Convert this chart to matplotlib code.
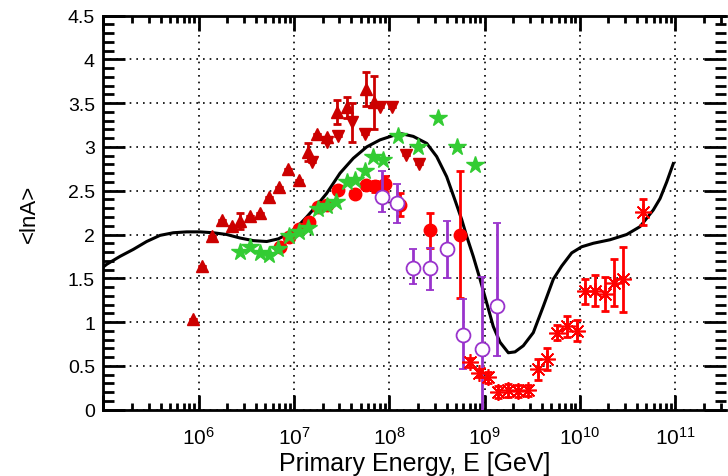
import numpy as np
import matplotlib
matplotlib.use("Agg")
import matplotlib.pyplot as plt
from matplotlib.ticker import FixedLocator, FixedFormatter, NullFormatter

plt.rcParams['font.family'] = ['Liberation Sans', 'DejaVu Sans']
plt.rcParams['mathtext.fontset'] = 'custom'
plt.rcParams['mathtext.rm'] = 'Liberation Sans'
plt.rcParams['mathtext.it'] = 'Liberation Sans:italic'

# ---- data (log10 of energy in GeV, <lnA>) ----
up_logE = [5.938, 6.033, 6.144, 6.242, 6.347, 6.434, 6.539, 6.644, 6.742, 6.844,
           6.941, 7.054, 7.151, 7.239, 7.344, 7.455, 7.554, 7.753, 7.844]
up_lnA = [1.04, 1.64, 1.98, 2.16, 2.10, 2.15, 2.21, 2.24, 2.43, 2.54,
          2.75, 2.62, 2.94, 3.15, 3.11, 3.40, 3.45, 3.66, 3.51]
up_err = [0, 0, 0, 0, 0, 0.09, 0, 0, 0, 0,
          0, 0, 0.10, 0, 0, 0.14, 0.12, 0.19, 0.30]

dn_logE = [7.187, 7.344, 7.466, 7.613, 7.746, 7.904, 8.026, 8.176, 8.316]
dn_lnA = [2.83, 3.06, 3.13, 3.28, 3.15, 3.45, 3.46, 2.91, 2.81]
dn_err = [0, 0, 0, 0.22, 0, 0, 0, 0, 0]

star_logE = [6.437, 6.539, 6.644, 6.739, 6.833, 6.949, 7.054, 7.148, 7.253, 7.344,
             7.441, 7.554, 7.638, 7.743, 7.831, 7.936, 8.092, 8.302, 8.512, 8.710, 8.899]
star_lnA = [1.80, 1.86, 1.79, 1.77, 1.83, 1.98, 2.03, 2.07, 2.29, 2.32,
            2.37, 2.60, 2.62, 2.73, 2.88, 2.85, 3.13, 3.00, 3.33, 3.00, 2.79]

circ_logE = [6.854, 6.949, 7.054, 7.158, 7.253, 7.344, 7.463, 7.641, 7.757, 7.851,
             7.956, 8.113, 8.428, 8.743]
circ_lnA = [1.86, 1.97, 2.06, 2.14, 2.31, 2.34, 2.51, 2.46, 2.57, 2.55,
            2.58, 2.34, 2.05, 2.00]
circ_err = [0, 0, 0, 0, 0, 0, 0, 0, 0, 0.06,
            0.09, 0.13, 0.20, 0.72]

open_logE = [7.921, 8.079, 8.253, 8.428, 8.603, 8.778, 8.971, 9.134]
open_lnA = [2.43, 2.36, 1.62, 1.62, 1.83, 0.85, 0.69, 1.18]
open_lo = [0.17, 0.23, 0.19, 0.25, 0.33, 0.39, 0.90, 0.57]
open_hi = [0.29, 0.22, 0.21, 0.23, 0.32, 0.41, 0.83, 0.95]

ast_logE = [8.848, 8.945, 9.040, 9.145, 9.250, 9.355, 9.460, 9.565, 9.653, 9.761,
            9.863, 9.967, 10.055, 10.160, 10.264, 10.359, 10.456, 10.666]
ast_lnA = [0.54, 0.42, 0.37, 0.20, 0.22, 0.21, 0.22, 0.46, 0.58, 0.88,
           0.95, 0.90, 1.35, 1.36, 1.32, 1.45, 1.49, 2.26]
ast_err = [0.05, 0.05, 0.06, 0.07, 0.07, 0.07, 0.06, 0.12, 0.13, 0.09,
           0.12, 0.12, 0.14, 0.18, 0.19, 0.27, 0.37, 0.15]

curve_logE = [5.000, 5.036, 5.175, 5.315, 5.455, 5.595, 5.735, 5.875, 6.015, 6.154,
              6.295, 6.434, 6.574, 6.715, 6.836, 6.924, 7.029, 7.134, 7.239, 7.344,
              7.484, 7.623, 7.764, 7.903, 8.043, 8.131, 8.253, 8.394, 8.498, 8.603,
              8.691, 8.761, 8.813, 8.882, 8.953, 9.023, 9.092, 9.163, 9.250, 9.320,
              9.407, 9.512, 9.617, 9.722, 9.810, 9.915, 10.020, 10.142, 10.317, 10.492,
              10.632, 10.771, 10.842, 10.912, 10.981]
curve_lnA = [1.63, 1.66, 1.75, 1.83, 1.92, 1.99, 2.02, 2.03, 2.03, 2.02,
             2.00, 1.96, 1.93, 1.92, 1.95, 2.00, 2.08, 2.20, 2.33, 2.47,
             2.70, 2.87, 3.00, 3.08, 3.13, 3.15, 3.12, 3.04, 2.89, 2.66,
             2.39, 2.17, 1.98, 1.75, 1.49, 1.22, 0.95, 0.77, 0.65, 0.66,
             0.73, 0.88, 1.18, 1.49, 1.64, 1.79, 1.86, 1.90, 1.94, 2.00,
             2.09, 2.28, 2.41, 2.60, 2.81]

xticks_exp = [6, 7, 8, 9, 10, 11]
yticks = [0, 0.5, 1, 1.5, 2, 2.5, 3, 3.5, 4, 4.5]
ytick_labels = ['0', '0.5', '1', '1.5', '2', '2.5', '3', '3.5', '4', '4.5']

def E(v):
    return 10.0 ** np.asarray(v)

fig = plt.figure(figsize=(7.28, 4.77), dpi=100)
ax = fig.add_axes([103.3 / 728, 66.3 / 477, (726 - 103.3) / 728, (460.5 - 66.3) / 477])
ax.set_xscale('log')
ax.set_xlim(1e5, 10 ** 11.534)
ax.set_ylim(0, 4.5)

dred = '#cc0000'
red = '#ff0000'
green = '#33cc33'
purple = '#9933cc'

ekw = dict(elinewidth=2, capsize=3, capthick=2)

# black curve
ax.plot(E(curve_logE), curve_lnA, color='black', lw=2.2, zorder=3)

# dark red triangles
ax.errorbar(E(up_logE), up_lnA, yerr=up_err, fmt='^', color=dred, ms=9, mec=dred, zorder=4, **ekw)
ax.errorbar(E(dn_logE), dn_lnA, yerr=dn_err, fmt='v', color=dred, ms=9, mec=dred, zorder=4, **ekw)

# red filled circles
ax.errorbar(E(circ_logE), circ_lnA, yerr=circ_err, fmt='o', color=red, ms=9, mec=red, zorder=5, **ekw)

# green stars
ax.plot(E(star_logE), star_lnA, '*', color=green, ms=13, mec=green, ls='none', zorder=6)

# purple open circles
ax.errorbar(E(open_logE), open_lnA, yerr=[open_lo, open_hi], fmt='o', color=purple,
            mfc='white', mec=purple, mew=1.3, ms=10, zorder=7, **ekw)

# red asterisks
ax.errorbar(E(ast_logE), ast_lnA, yerr=ast_err, fmt='none', ecolor=red, zorder=8, **ekw)
ax.plot(E(ast_logE), ast_lnA, marker=(8, 2, 0), color=red, ms=12, mew=1.2, ls='none', zorder=8)

# axes styling
ax.xaxis.set_major_locator(FixedLocator([10.0 ** k for k in [5] + xticks_exp]))
ax.xaxis.set_major_formatter(FixedFormatter([''] + [r'$10^{%d}$' % k for k in xticks_exp]))
minors = [m * 10.0 ** k for k in range(5, 12) for m in range(2, 10)]
ax.xaxis.set_minor_locator(FixedLocator(minors))
ax.xaxis.set_minor_formatter(NullFormatter())
ax.yaxis.set_major_locator(FixedLocator(yticks))
ax.yaxis.set_major_formatter(FixedFormatter(ytick_labels))
ax.yaxis.set_minor_locator(FixedLocator(np.arange(0, 4.51, 0.1)))

ax.tick_params(axis='x', which='major', direction='in', length=11, width=2, top=True, bottom=True,
               labelsize=15, pad=12)
ax.tick_params(axis='x', which='minor', direction='in', length=5, width=2, top=True, bottom=True)
ax.tick_params(axis='y', which='major', direction='in', length=16, width=2, left=True, right=True,
               labelsize=14, pad=6)
ax.tick_params(axis='y', which='minor', direction='in', length=8, width=2, left=True, right=True)

for s in ['left', 'bottom', 'top']:
    ax.spines[s].set_linewidth(2)
ax.spines['right'].set_visible(False)

ax.grid(True, which='major', color='black', linestyle=(0, (1, 3)), linewidth=1.2)
ax.set_axisbelow(True)

ax.set_xlabel('Primary Energy, E [GeV]', fontsize=18, labelpad=2)
ax.set_ylabel('<lnA>', fontsize=16, labelpad=20)

fig.savefig('out.png', dpi=100)
